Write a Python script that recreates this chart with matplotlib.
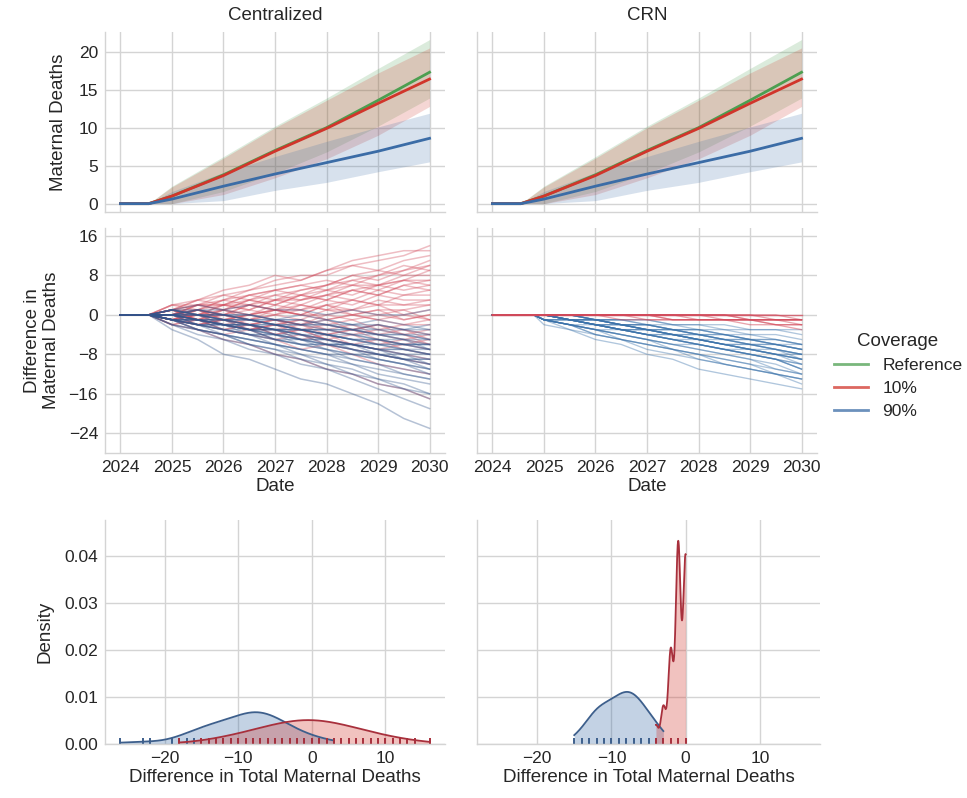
import numpy as np
import matplotlib
matplotlib.use("Agg")
import matplotlib.pyplot as plt
from matplotlib.lines import Line2D

# ---------------- data ----------------
panels = ["Centralized", "CRN"]
coverage_labels = ["Reference", "10%", "90%"]
year_ticks = [2024, 2025, 2026, 2027, 2028, 2029, 2030]

# Row 1: mean maternal deaths with interval (same in both panels)
top_dates = [2024.0, 2024.55, 2025.0, 2026.0, 2027.0, 2028.0, 2029.0, 2030.0]
ref_mean = [0, 0, 1.0, 3.8, 7.0, 10.0, 13.6, 17.3]
ref_lo = [0, 0, 0.0, 1.6, 4.0, 6.8, 10.2, 13.9]
ref_hi = [0, 0, 2.3, 6.2, 10.2, 13.9, 17.8, 21.6]
p10_mean = [0, 0, 1.0, 3.7, 6.9, 9.9, 13.2, 16.4]
p10_lo = [0, 0, 0.0, 1.2, 3.4, 5.9, 9.0, 12.8]
p10_hi = [0, 0, 2.2, 6.0, 10.0, 13.6, 17.2, 20.5]
p90_mean = [0, 0, 0.6, 2.3, 3.9, 5.4, 6.9, 8.6]
p90_lo = [0, 0, 0.0, 0.4, 1.75, 2.8, 4.2, 5.5]
p90_hi = [0, 0, 1.6, 4.1, 6.2, 8.2, 10.1, 11.9]

# Row 2: per-run difference in maternal deaths, values at half-year checkpoints
run_dates = [2025.0, 2025.5, 2026.0, 2026.5, 2027.0, 2027.5, 2028.0, 2028.5, 2029.0, 2029.5, 2030.0]
cent_start = 2024.55
crn_start = 2024.8

cent_10_runs = [
    [1, 3, 4, 5, 7, 8, 8, 10, 11, 12, 14],
    [2, 1, 3, 4, 3, 5, 6, 8, 9, 8, 10],
    [0, 2, 2, 4, 5, 4, 6, 7, 6, 8, 8],
    [-1, 0, 2, 1, 3, 4, 3, 5, 6, 5, 6],
    [1, 1, 0, 2, 1, 3, 4, 3, 5, 4, 5],
    [0, -1, 1, 0, 2, 1, 3, 2, 4, 3, 3],
    [1, 0, 2, 2, 1, 2, 1, 3, 2, 2, 2],
    [-1, 1, 0, 1, 0, 2, 1, 1, 2, 0, 1],
    [0, 1, -1, 0, 1, 0, 0, 1, 0, -1, 0],
    [1, -1, 0, -1, 0, 1, -1, 0, -1, 0, -1],
    [-1, 0, -2, -1, 0, -1, 1, 0, -1, -2, -1],
    [0, -1, 1, -1, -2, -1, -2, -1, -3, -2, -2],
    [-1, -2, -1, -2, -1, -3, -2, -3, -2, -4, -3],
    [0, 1, -1, -2, -3, -2, -4, -3, -4, -5, -4],
    [-1, -1, -3, -2, -4, -3, -5, -4, -6, -5, -6],
    [1, -1, -2, -3, -2, -4, -5, -6, -5, -7, -8],
    [-2, -1, -3, -4, -5, -4, -6, -7, -8, -9, -10],
    [-1, -3, -4, -3, -5, -7, -6, -8, -10, -11, -12],
    [-2, -3, -5, -6, -8, -9, -11, -12, -14, -15, -17],
    [0, 2, 3, 5, 6, 7, 9, 10, 9, 11, 12],
    [2, 3, 5, 6, 8, 7, 9, 11, 12, 13, 13],
    [-1, 0, 1, 3, 2, 4, 5, 4, 6, 7, 9],
    [1, 2, 1, 0, 1, 0, 2, 3, 2, 4, 4],
    [0, -2, -1, -3, -2, -1, -3, -2, -4, -3, -5],
    [0, 1, 2, 1, 3, 2, 4, 5, 4, 6, 7],
    [1, 0, -1, 0, -1, -2, -1, -3, -2, -3, -4],
    [-1, -2, -1, 0, 1, 0, 2, 1, 3, 2, 3],
    [2, 2, 4, 3, 5, 6, 5, 7, 8, 9, 11],
    [0, -1, -2, -3, -3, -5, -4, -6, -7, -6, -7],
    [1, 2, 2, 3, 2, 4, 3, 5, 4, 6, 5],
    [-1, 0, 0, -1, 1, 0, -1, 0, 1, 1, 2],
    [0, 0, 1, 2, 3, 3, 5, 6, 6, 7, 7],
    [-2, -1, -2, -3, -2, -3, -4, -3, -5, -6, -5],
    [1, 3, 2, 4, 5, 6, 7, 6, 8, 10, 9],
    [0, -1, 0, -2, -1, -2, -3, -4, -3, -4, -6],
    [-1, 1, 0, 2, 1, 1, 2, 0, 1, -1, 0],
    [0, 1, 3, 2, 4, 5, 6, 8, 7, 9, 10],
    [1, -1, -1, -2, -4, -3, -5, -6, -7, -8, -9],
    [-1, -2, -3, -2, -1, -2, 0, -1, 0, 1, -1],
    [0, 2, 1, 3, 4, 3, 4, 6, 5, 7, 6],
]
cent_90_runs = [
    [0, -1, -1, -2, -3, -3, -4, -5, -5, -6, -7],
    [-1, -2, -3, -4, -5, -6, -6, -7, -8, -9, -10],
    [1, 0, -1, -1, -2, -3, -3, -4, -4, -5, -6],
    [-1, -1, -2, -3, -3, -4, -5, -6, -7, -7, -8],
    [0, -2, -3, -4, -6, -7, -8, -9, -10, -11, -12],
    [1, 1, 0, -1, -1, -2, -2, -3, -3, -4, -4],
    [-1, -3, -4, -5, -6, -8, -9, -10, -12, -13, -14],
    [0, 0, -1, -2, -2, -3, -4, -4, -5, -6, -6],
    [-2, -3, -4, -6, -7, -8, -10, -11, -13, -14, -16],
    [0, 1, 0, 0, -1, -1, -2, -2, -2, -3, -2],
    [-1, -2, -2, -3, -4, -5, -5, -6, -7, -8, -9],
    [1, 0, 0, -1, -2, -2, -3, -3, -4, -4, -5],
    [-2, -4, -5, -7, -8, -10, -11, -13, -15, -17, -19],
    [0, -1, -2, -2, -3, -4, -5, -6, -6, -7, -8],
    [1, 2, 1, 2, 1, 1, 0, 1, 0, 0, 1],
    [-1, -2, -4, -5, -6, -7, -8, -8, -9, -10, -11],
    [0, -1, -2, -3, -5, -6, -7, -9, -10, -12, -13],
    [-3, -5, -8, -9, -11, -13, -14, -16, -18, -21, -23],
    [0, 0, -1, -1, -2, -3, -3, -4, -5, -5, -7],
    [-1, -2, -3, -4, -4, -5, -6, -7, -8, -9, -9],
    [-1, -3, -4, -6, -7, -9, -10, -12, -13, -15, -17],
    [0, -1, -1, -3, -4, -4, -5, -7, -8, -8, -10],
    [1, 0, -2, -2, -3, -5, -6, -6, -7, -9, -11],
    [0, 1, 1, 0, -1, 0, -1, -2, -1, -2, -3],
    [0, -1, -2, -3, -3, -4, -6, -6, -7, -8, -8],
    [-1, -1, -2, -2, -3, -3, -4, -5, -6, -6, -7],
    [0, 0, 0, -1, -2, -2, -2, -3, -4, -4, -5],
    [-1, -2, -3, -3, -5, -6, -7, -8, -9, -10, -12],
    [1, 0, -1, -2, -2, -3, -4, -5, -5, -6, -6],
    [-1, -2, -2, -4, -5, -5, -7, -8, -8, -9, -10],
    [0, -1, -1, -1, -2, -3, -3, -3, -4, -5, -5],
    [-2, -3, -4, -5, -6, -7, -8, -10, -11, -12, -13],
    [0, 1, 0, -1, -1, -2, -1, -2, -3, -3, -4],
    [-1, -1, -3, -4, -4, -5, -6, -6, -8, -9, -9],
    [0, -1, -2, -2, -4, -5, -5, -6, -7, -7, -8],
    [-1, -3, -5, -6, -8, -9, -11, -12, -14, -15, -16],
    [1, 0, 0, 0, -1, -1, -2, -3, -2, -3, -3],
    [0, -2, -2, -3, -4, -6, -6, -7, -9, -10, -11],
    [-1, -1, -2, -3, -3, -4, -4, -5, -6, -7, -7],
    [0, 0, -1, -2, -3, -3, -4, -5, -6, -6, -6],
]
crn_90_runs = [
    [0, -1, -2, -2, -3, -4, -4, -5, -6, -7, -8],
    [-1, -1, -2, -3, -4, -5, -6, -7, -8, -9, -10],
    [0, 0, -1, -1, -2, -2, -3, -3, -4, -4, -5],
    [0, -1, -1, -2, -3, -3, -4, -5, -5, -6, -7],
    [-1, -2, -3, -4, -5, -6, -7, -8, -9, -11, -12],
    [0, -1, -1, -2, -2, -3, -3, -4, -5, -5, -6],
    [-1, -2, -3, -4, -5, -7, -8, -9, -10, -12, -13],
    [0, -1, -2, -3, -3, -4, -5, -6, -7, -8, -9],
    [-2, -3, -5, -6, -8, -9, -11, -12, -13, -14, -15],
    [0, 0, -1, -1, -1, -2, -2, -3, -3, -3, -4],
    [0, -1, -2, -2, -3, -4, -5, -5, -6, -7, -8],
    [-1, -1, -2, -3, -4, -4, -5, -6, -7, -8, -9],
    [0, -1, -2, -3, -4, -5, -6, -7, -8, -9, -11],
    [0, 0, -1, -2, -2, -3, -3, -4, -4, -5, -6],
    [-1, -2, -3, -4, -5, -6, -7, -8, -9, -10, -12],
    [0, -1, -1, -2, -3, -4, -4, -5, -6, -6, -7],
    [0, -1, -2, -3, -4, -4, -5, -6, -7, -8, -10],
    [-1, -3, -4, -5, -7, -8, -9, -10, -11, -12, -14],
    [0, 0, -1, -1, -1, -2, -2, -2, -3, -3, -3],
    [0, -1, -2, -3, -3, -4, -5, -6, -7, -8, -8],
    [-1, -2, -4, -5, -6, -7, -8, -10, -11, -12, -13],
    [0, -1, -1, -2, -3, -4, -5, -6, -6, -7, -9],
    [-1, -2, -2, -3, -4, -5, -6, -7, -8, -9, -11],
    [0, 0, -1, -2, -3, -3, -4, -4, -5, -6, -7],
    [0, -1, -1, -2, -3, -3, -4, -5, -6, -6, -7],
    [-1, -1, -2, -3, -3, -4, -5, -6, -6, -7, -8],
    [0, -1, -2, -3, -4, -5, -5, -6, -7, -8, -9],
    [-1, -2, -3, -3, -4, -5, -6, -7, -8, -9, -10],
    [0, 0, -1, -2, -2, -3, -4, -4, -5, -5, -6],
    [-1, -2, -3, -4, -5, -6, -6, -7, -8, -9, -11],
    [0, -1, -1, -2, -2, -3, -4, -5, -5, -6, -7],
    [-1, -2, -3, -5, -6, -7, -8, -9, -10, -11, -12],
    [0, -1, -2, -2, -3, -4, -5, -6, -7, -7, -8],
    [0, 0, -1, -1, -2, -3, -3, -4, -5, -6, -6],
    [-1, -1, -2, -3, -4, -5, -6, -7, -7, -8, -9],
    [-1, -2, -4, -5, -6, -7, -9, -10, -11, -12, -13],
]
crn_10_runs = [
    [0, 0, 0, 0, 0, 0, 0, 0, 0, 0, 0],
    [0, 0, 0, 0, 0, 0, 0, 0, 0, -1, -1],
    [0, 0, 0, 0, -1, -1, -1, -1, -1, -1, -1],
    [0, 0, 0, 0, 0, 0, -1, -1, -1, -1, -2],
    [0, 0, 0, 0, 0, 0, 0, 0, 0, 0, 0],
    [0, 0, 0, 0, 0, -1, -1, -1, -2, -2, -2],
    [0, 0, 0, 0, 0, 0, 0, -1, -1, -1, -1],
    [0, 0, 0, 0, 0, 0, 0, 0, -1, -2, -3],
    [0, 0, 0, -1, -1, -1, -1, -1, -1, -1, -1],
    [0, 0, 0, 0, 0, 0, 0, 0, -1, -1, -1],
    [0, 0, 0, 0, 0, 0, 0, 0, 0, 0, -1],
    [0, 0, 0, 0, 0, -1, -1, -1, -1, -2, -2],
]

# Row 3: final difference in total maternal deaths (value -> number of runs)
cent_90_vals = [-26, -23, -22, -19, -18, -17, -16, -15, -14, -13, -12, -11, -10, -9, -8,
                -7, -6, -5, -4, -3, -2, -1, 0, 1, 2, 3]
cent_90_counts = [1, 1, 1, 1, 2, 2, 3, 4, 4, 5, 5, 5, 6, 7, 8,
                  8, 7, 6, 5, 4, 3, 2, 2, 1, 1, 1]
cent_10_vals = [-18, -15, -14, -13, -12, -11, -10, -9, -8, -7, -6, -5, -4, -3, -2, -1, 0,
                1, 2, 3, 4, 5, 6, 7, 8, 9, 10, 11, 12, 13, 14, 16]
cent_10_counts = [1, 1, 1, 1, 2, 2, 2, 3, 3, 4, 4, 5, 5, 5, 6, 6, 6,
                  6, 5, 5, 5, 4, 4, 3, 3, 2, 2, 2, 1, 1, 1, 1]
crn_90_vals = [-15, -14, -13, -12, -11, -10, -9, -8, -7, -6, -5, -4, -3]
crn_90_counts = [2, 3, 6, 9, 9, 10, 11, 13, 12, 10, 7, 5, 3]
crn_10_vals = [-4, -3, -2, -1, 0]
crn_10_counts = [3, 6, 15, 32, 30]

# ---------------- style ----------------
plt.rcParams["font.family"] = ["Liberation Sans", "DejaVu Sans"]
TEXT = "#262626"
GRID = "#d4d4d4"
GREEN = "#4c9f50"
RED = "#d1352b"
BLUE = "#3b6ca6"
RED_RUN = "#d2495a"
BLUE_RUN = "#34568c"
BLUE_RUN_CRN = "#3a72aa"
DENSITY_WEIGHT = 0.095

fig = plt.figure(figsize=(9.67, 7.98), dpi=100)
W, H = 967.0, 798.0


def add_ax(left, top, right, bottom):
    return fig.add_axes([left / W, 1 - bottom / H, (right - left) / W, (bottom - top) / H])


def style(ax):
    ax.set_facecolor("white")
    ax.grid(True, color=GRID, lw=1.0)
    ax.set_axisbelow(True)
    for s in ["top", "right"]:
        ax.spines[s].set_visible(False)
    for s in ["left", "bottom"]:
        ax.spines[s].set_color(GRID)
        ax.spines[s].set_linewidth(1.0)
    ax.tick_params(length=0, labelsize=12.5, colors=TEXT, pad=5)


cols = [(105, 445), (477, 817)]
top_axes = [add_ax(l, 32, r, 212) for l, r in cols]
mid_axes = [add_ax(l, 228, r, 453) for l, r in cols]
bot_axes = [add_ax(105, 520, 445, 744), add_ax(477, 520, 820, 744)]

# Row 1
series = [(ref_mean, ref_lo, ref_hi, GREEN), (p10_mean, p10_lo, p10_hi, RED),
          (p90_mean, p90_lo, p90_hi, BLUE)]
for i, ax in enumerate(top_axes):
    style(ax)
    for m, lo, hi, c in series:
        ax.fill_between(top_dates, lo, hi, color=c, alpha=0.2, lw=0)
    for m, lo, hi, c in series:
        ax.plot(top_dates, m, color=c, lw=2.0)
    ax.set_xlim(2023.7, 2030.3)
    ax.set_xticks(year_ticks)
    ax.set_xticklabels([])
    ax.set_ylim(-1.1, 22.6)
    ax.set_yticks([0, 5, 10, 15, 20])
    ax.set_title(panels[i], fontsize=13.5, color=TEXT, pad=9)
    if i == 1:
        ax.set_yticklabels([])
top_axes[0].set_ylabel("Maternal Deaths", fontsize=13.5, color=TEXT, labelpad=8)


def draw_runs(ax, runs, start, color, alpha, lw):
    xs = [2024.0, start] + run_dates
    for r in runs:
        ax.plot(xs, [0, 0] + list(r), color=color, alpha=alpha, lw=lw)


# Row 2
ax = mid_axes[0]
style(ax)
draw_runs(ax, cent_10_runs, cent_start, RED_RUN, 0.36, 1.1)
draw_runs(ax, cent_90_runs, cent_start, BLUE_RUN, 0.36, 1.1)
ax = mid_axes[1]
style(ax)
draw_runs(ax, crn_90_runs, crn_start, BLUE_RUN_CRN, 0.4, 0.95)
draw_runs(ax, crn_10_runs, crn_start, RED_RUN, 0.5, 0.95)
for i, ax in enumerate(mid_axes):
    ax.set_xlim(2023.7, 2030.3)
    ax.set_xticks(year_ticks)
    ax.set_xticklabels([str(y) for y in year_ticks])
    ax.set_ylim(-28, 17.6)
    ax.set_yticks([-24, -16, -8, 0, 8, 16])
    ax.set_xlabel("Date", fontsize=13.5, color=TEXT, labelpad=2)
    if i == 1:
        ax.set_yticklabels([])
mid_axes[0].set_ylabel("Difference in\nMaternal Deaths", fontsize=13.5, color=TEXT, labelpad=6)


# Row 3
def kde(vals, counts, bw_adjust=1.0):
    x = np.repeat(np.asarray(vals, float), counts)
    n = len(x)
    bw = x.std(ddof=1) * n ** (-0.2) * bw_adjust
    grid = np.linspace(x.min(), x.max(), 500)
    d = np.exp(-0.5 * ((grid[:, None] - x[None, :]) / bw) ** 2).sum(1) / (n * bw * np.sqrt(2 * np.pi))
    return grid, d * DENSITY_WEIGHT


def draw_kde(ax, vals, counts, fill, edge, bw_adjust=1.0):
    g, d = kde(vals, counts, bw_adjust)
    ax.fill_between(g, 0, d, color=fill, alpha=0.3, lw=0)
    ax.plot(g, d, color=edge, lw=1.3)
    ax.vlines(vals, 0, 0.025, transform=ax.get_xaxis_transform(), color=edge, lw=1.4)


draw_kde(bot_axes[0], cent_90_vals, cent_90_counts, BLUE, "#3d5f8c")
draw_kde(bot_axes[0], cent_10_vals, cent_10_counts, RED, "#a8303c")
draw_kde(bot_axes[1], crn_90_vals, crn_90_counts, BLUE, "#3d5f8c")
draw_kde(bot_axes[1], crn_10_vals, crn_10_counts, RED, "#a8303c", bw_adjust=0.76)
for i, ax in enumerate(bot_axes):
    style(ax)
    ax.set_xlim(-28.1, 18.1)
    ax.set_xticks([-20, -10, 0, 10])
    ax.set_ylim(0, 0.0477)
    ax.set_yticks([0, 0.01, 0.02, 0.03, 0.04])
    ax.set_yticklabels(["0.00", "0.01", "0.02", "0.03", "0.04"])
    ax.set_xlabel("Difference in Total Maternal Deaths", fontsize=13.5, color=TEXT, labelpad=2)
    if i == 1:
        ax.set_yticklabels([])
bot_axes[0].set_ylabel("Density", fontsize=13.5, color=TEXT, labelpad=8)

# Legend
handles = [Line2D([], [], color=c, lw=2, alpha=0.75) for c in (GREEN, RED, BLUE)]
leg = fig.legend(handles, coverage_labels, title="Coverage", loc="center left",
                 bbox_to_anchor=(818 / W, 1 - 376 / H), frameon=False,
                 fontsize=12.5, title_fontsize=13.5, handlelength=2.0, labelspacing=0.45)
for t in leg.get_texts():
    t.set_color(TEXT)
leg.get_title().set_color(TEXT)

fig.savefig("out.png", dpi=100, facecolor="white")
